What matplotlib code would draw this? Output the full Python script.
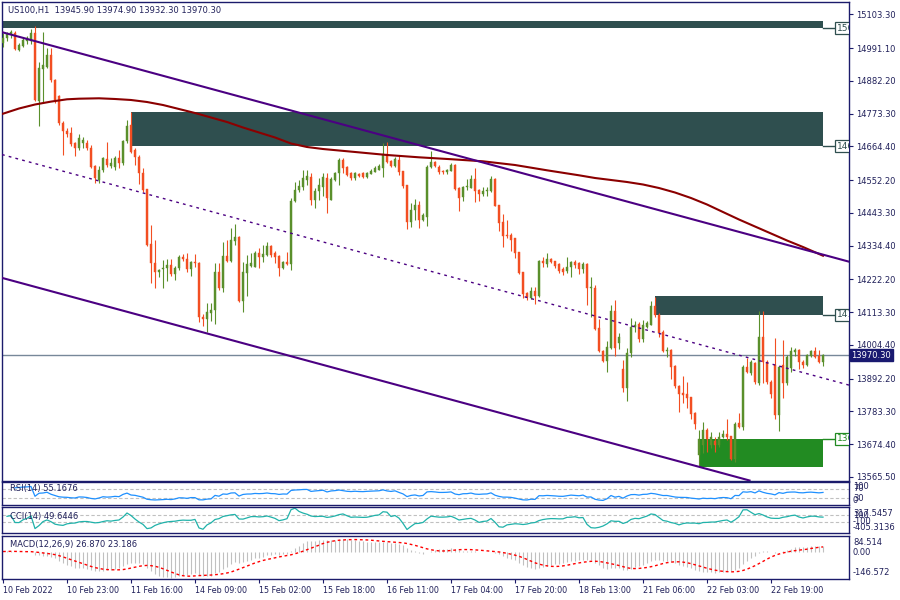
import numpy as np
import pandas as pd
import matplotlib
matplotlib.use("Agg")
import matplotlib.pyplot as plt
import matplotlib.transforms as mtrans

plt.rcParams['font.family'] = ['DejaVu Sans']

header = "US100,H1  13945.90 13974.90 13932.30 13970.30"

opens = [15007.9, 15024.5, 15037.8, 15041.1, 14984.6, 14997.9, 15014.6, 15014.6, 15041.1, 14815.1,
         14921.5, 14928.1, 14967.9, 14884.9, 14831.6, 14741.9, 14715.3, 14708.6, 14675.4, 14658.8,
         14675.4, 14675.4, 14658.8, 14598.9, 14552.4, 14585.6, 14622.2, 14598.9, 14595.6, 14625.5,
         14608.9, 14682.1, 14735.3, 14652.1, 14628.9, 14575.6, 14522.5, 14339.6, 14276.4, 14246.5,
         14256.5, 14259.8, 14269.8, 14239.8, 14259.8, 14296.4, 14289.7, 14256.5, 14279.7, 14276.4,
         14096.9, 14090.2, 14110.1, 14120.1, 14246.5, 14193.3, 14299.6, 14283.1, 14349.6, 14362.9,
         14150.1, 14243.1, 14266.4, 14263.1, 14309.6, 14296.4, 14303.0, 14333.0, 14309.6, 14299.6,
         14259.8, 14279.7, 14273.1, 14482.6, 14519.1, 14529.1, 14552.4, 14562.3, 14485.9, 14515.8,
         14529.1, 14559.0, 14485.9, 14552.4, 14575.6, 14618.9, 14595.6, 14575.6, 14559.0, 14572.3,
         14575.6, 14562.3, 14572.3, 14579.0, 14585.6, 14592.3, 14638.8, 14615.6, 14598.9, 14618.9,
         14582.3, 14535.8, 14412.8, 14452.6, 14469.3, 14419.4, 14429.4, 14595.6, 14612.2, 14595.6,
         14582.3, 14579.0, 14582.3, 14602.2, 14525.8, 14495.9, 14529.1, 14525.8, 14555.7, 14519.1,
         14505.8, 14515.8, 14515.8, 14555.7, 14469.3, 14412.8, 14369.5, 14369.5, 14359.6, 14313.0,
         14246.5, 14176.6, 14160.0, 14183.3, 14166.6, 14283.1, 14273.1, 14289.7, 14283.1, 14273.1,
         14256.5, 14249.8, 14263.1, 14279.7, 14276.4, 14256.5, 14273.1, 14193.3, 14193.3, 14060.3,
         13983.8, 13950.6, 13993.8, 14116.8, 14010.4, 13923.9, 13860.8, 13977.2, 14063.6, 14073.6,
         14023.7, 14063.6, 14070.3, 14133.4, 14103.5, 14047.0, 13983.8, 13987.1, 13933.9, 13867.4,
         13844.2, 13840.8, 13830.9, 13777.6, 13638.0, 13671.3, 13721.1, 13671.3, 13684.5, 13671.3,
         13697.8, 13707.8, 13701.2, 13624.7, 13744.4, 13731.1, 13930.6, 13910.6, 13943.9, 13877.4,
         14030.4, 13947.2, 13880.7, 13937.3, 13771.0, 13937.3, 13877.4, 13927.3, 13980.5, 13987.1,
         13947.2, 13937.3, 13967.2, 13983.8, 13967.2, 13945.9]

closes = [15024.5, 15037.8, 15044.4, 14988.0, 15001.3, 15017.9, 15024.5, 15041.1, 14818.4, 14924.8,
          14934.8, 14967.9, 14884.9, 14818.4, 14741.9, 14715.3, 14705.3, 14672.1, 14658.8, 14692.0,
          14685.4, 14658.8, 14595.6, 14559.0, 14585.6, 14625.5, 14602.2, 14608.9, 14625.5, 14608.9,
          14682.1, 14732.0, 14645.4, 14628.9, 14575.6, 14519.1, 14336.3, 14276.4, 14246.5, 14253.1,
          14259.8, 14269.8, 14239.8, 14259.8, 14296.4, 14289.7, 14256.5, 14279.7, 14276.4, 14096.9,
          14090.2, 14113.5, 14120.1, 14246.5, 14193.3, 14299.6, 14283.1, 14352.9, 14362.9, 14150.1,
          14246.5, 14273.1, 14276.4, 14309.6, 14296.4, 14306.3, 14333.0, 14303.0, 14296.4, 14259.8,
          14279.7, 14273.1, 14482.6, 14519.1, 14532.5, 14559.0, 14565.7, 14485.9, 14515.8, 14535.8,
          14562.3, 14492.6, 14555.7, 14575.6, 14618.9, 14592.3, 14569.0, 14559.0, 14575.6, 14565.7,
          14562.3, 14575.6, 14582.3, 14592.3, 14598.9, 14638.8, 14612.2, 14598.9, 14622.2, 14579.0,
          14532.5, 14412.8, 14452.6, 14469.3, 14419.4, 14436.0, 14595.6, 14612.2, 14598.9, 14579.0,
          14579.0, 14585.6, 14602.2, 14522.5, 14492.6, 14529.1, 14532.5, 14555.7, 14515.8, 14505.8,
          14515.8, 14519.1, 14555.7, 14465.9, 14409.4, 14366.2, 14366.2, 14352.9, 14309.6, 14243.1,
          14173.3, 14163.3, 14183.3, 14166.6, 14283.1, 14276.4, 14289.7, 14279.7, 14266.4, 14249.8,
          14246.5, 14263.1, 14279.7, 14269.8, 14256.5, 14273.1, 14193.3, 14196.6, 14057.0, 13983.8,
          13950.6, 13997.1, 14116.8, 13993.8, 14030.4, 13860.8, 13977.2, 14063.6, 14070.3, 14023.7,
          14070.3, 14077.0, 14133.4, 14103.5, 14043.6, 13983.8, 13987.1, 13930.6, 13867.4, 13840.8,
          13837.5, 13827.5, 13774.3, 13741.1, 13691.2, 13721.1, 13691.2, 13697.8, 13671.3, 13697.8,
          13707.8, 13697.8, 13624.7, 13741.1, 13731.1, 13930.6, 13914.0, 13947.2, 13880.7, 14030.4,
          13947.2, 13880.7, 13840.8, 13771.0, 13930.6, 13877.4, 13963.9, 13983.8, 13987.1, 13947.2,
          13937.3, 13970.5, 13983.8, 13963.9, 13947.2, 13970.3]

highs = [15041.1, 15044.4, 15051.1, 15047.8, 15007.9, 15024.5, 15031.1, 15054.5, 15064.4, 14944.7,
         15044.4, 14991.3, 14991.3, 14888.2, 14835.0, 14748.6, 14725.3, 14728.6, 14678.8, 14705.3,
         14695.4, 14685.4, 14668.7, 14602.2, 14598.9, 14628.9, 14678.8, 14625.5, 14632.1, 14652.1,
         14685.4, 14751.9, 14778.4, 14658.8, 14635.5, 14592.3, 14522.5, 14402.8, 14352.9, 14256.5,
         14286.4, 14289.7, 14289.7, 14266.4, 14303.0, 14306.3, 14309.6, 14283.1, 14306.3, 14279.7,
         14106.8, 14143.4, 14143.4, 14276.4, 14276.4, 14346.3, 14352.9, 14392.8, 14406.1, 14366.1,
         14279.7, 14303.0, 14309.6, 14316.3, 14326.3, 14336.3, 14346.3, 14336.3, 14316.3, 14303.0,
         14283.1, 14313.0, 14492.6, 14545.8, 14552.4, 14585.6, 14585.6, 14575.6, 14525.8, 14559.0,
         14575.6, 14575.6, 14562.3, 14579.0, 14625.5, 14625.5, 14598.9, 14579.0, 14579.0, 14575.6,
         14579.0, 14579.0, 14588.9, 14598.9, 14605.6, 14675.4, 14678.8, 14618.9, 14628.9, 14635.5,
         14582.3, 14535.8, 14475.9, 14489.2, 14482.6, 14442.6, 14602.2, 14648.8, 14615.6, 14602.2,
         14585.6, 14588.9, 14608.9, 14605.6, 14529.1, 14532.5, 14555.7, 14569.0, 14592.3, 14522.5,
         14529.1, 14529.1, 14565.7, 14559.0, 14469.3, 14439.3, 14419.4, 14376.1, 14359.6, 14313.0,
         14246.5, 14179.9, 14196.6, 14196.6, 14286.4, 14296.4, 14309.6, 14293.0, 14283.1, 14276.4,
         14263.1, 14296.4, 14283.1, 14286.4, 14279.7, 14279.7, 14276.4, 14229.9, 14203.3, 14090.2,
         13987.1, 14017.0, 14136.7, 14153.4, 14043.6, 13953.9, 13993.8, 14093.5, 14083.6, 14080.2,
         14086.9, 14083.6, 14150.1, 14163.3, 14110.1, 14053.6, 13997.1, 13990.4, 13937.3, 13870.7,
         13900.7, 13880.7, 13830.9, 13781.0, 13721.1, 13747.7, 13727.8, 13714.5, 13697.8, 13714.5,
         13721.1, 13757.7, 13701.2, 13747.7, 13777.6, 13937.3, 13960.5, 13953.9, 13947.2, 14116.8,
         14116.8, 13953.9, 13887.4, 14027.0, 13933.9, 14020.4, 13970.5, 13997.1, 13993.8, 13990.4,
         13953.9, 13973.9, 13987.1, 13997.1, 13987.1, 13974.9]

lows = [14994.6, 15014.6, 15024.5, 14984.6, 14981.3, 14994.6, 15004.6, 15004.6, 14815.1, 14731.9,
        14808.4, 14924.8, 14878.2, 14808.4, 14735.3, 14635.5, 14695.4, 14665.4, 14632.1, 14652.1,
        14658.8, 14652.1, 14592.3, 14542.4, 14542.4, 14579.0, 14595.6, 14592.3, 14585.6, 14592.3,
        14602.2, 14675.4, 14642.1, 14602.2, 14539.1, 14512.5, 14333.0, 14209.9, 14193.3, 14229.9,
        14193.3, 14216.6, 14233.2, 14219.9, 14253.1, 14283.1, 14246.5, 14233.2, 14263.1, 14080.2,
        14066.9, 14046.9, 14083.6, 14073.6, 14186.6, 14179.9, 14279.7, 14279.7, 14336.3, 14146.7,
        14113.5, 14166.6, 14263.1, 14263.1, 14259.8, 14279.7, 14299.6, 14296.4, 14276.4, 14233.2,
        14256.5, 14269.8, 14253.1, 14479.3, 14512.5, 14519.1, 14535.8, 14469.3, 14459.3, 14485.9,
        14499.2, 14442.6, 14485.9, 14549.1, 14535.8, 14575.6, 14565.7, 14552.4, 14552.4, 14562.3,
        14559.0, 14559.0, 14572.3, 14579.0, 14585.6, 14562.3, 14608.9, 14595.6, 14595.6, 14569.0,
        14525.8, 14389.5, 14396.1, 14419.4, 14392.8, 14416.1, 14399.5, 14592.3, 14595.6, 14572.3,
        14572.3, 14572.3, 14582.3, 14519.1, 14449.3, 14482.6, 14519.1, 14525.8, 14479.3, 14482.6,
        14499.2, 14499.2, 14512.5, 14465.9, 14382.8, 14329.6, 14359.6, 14316.3, 14293.0, 14239.8,
        14160.0, 14153.4, 14156.7, 14140.1, 14163.3, 14263.1, 14263.1, 14276.4, 14259.8, 14243.1,
        14236.5, 14243.1, 14229.9, 14259.8, 14239.8, 14243.1, 14136.7, 14096.9, 14053.6, 13980.5,
        13947.2, 13914.0, 13990.4, 13967.2, 13990.4, 13847.5, 13817.6, 13963.9, 14047.0, 14013.7,
        14013.7, 14060.3, 14070.3, 14096.9, 14030.4, 13980.5, 13963.9, 13890.7, 13860.8, 13781.0,
        13810.9, 13794.3, 13757.7, 13724.4, 13601.4, 13644.6, 13647.9, 13661.3, 13647.9, 13664.6,
        13694.5, 13687.9, 13621.4, 13614.7, 13727.8, 13721.1, 13910.6, 13904.0, 13874.1, 13870.7,
        13877.4, 13874.1, 13827.5, 13757.7, 13717.8, 13827.5, 13870.7, 13914.0, 13967.2, 13924.0,
        13927.3, 13933.9, 13963.9, 13960.5, 13943.9, 13932.3]

# moving average (at sample bars)
ma_bars = [0, 4, 8, 12, 16, 19, 24, 28, 32, 36, 40, 44, 48, 52, 56, 60, 64, 68, 72, 76,
           80, 88, 96, 104, 112, 120, 128, 136, 144, 148, 152, 156, 160, 164, 168, 172, 176, 180,
           184, 188, 192, 196, 200, 205]
ma_values = [14772.8, 14790.1, 14803.4, 14813.0, 14820.7, 14822.7, 14824.0, 14821.7, 14818.4, 14811.7,
             14801.7, 14788.4, 14775.1, 14760.2, 14745.2, 14726.9, 14710.3, 14693.7, 14673.7, 14662.1,
             14655.4, 14645.5, 14635.5, 14627.8, 14621.5, 14614.5, 14602.2, 14584.6, 14568.0, 14559.0,
             14552.4, 14545.7, 14537.4, 14525.7, 14510.8, 14492.5, 14470.9, 14445.9, 14421.0, 14397.7,
             14374.5, 14351.2, 14329.6, 14300.6]

# channel lines: price at two anchor bars
trend_bars = [0, 205]
upper_line = [15043.0, 14304.2]
middle_line = [14636.0, 13893.9]
lower_line = [14226.0, 13487.0]

# rectangles (zones)
zone_start = [-5, 32, 163, 174]
zone_end = [205, 205, 205, 205]
zone_low = [15057.7, 14665.4, 14103.5, 13598.1]
zone_high = [15081.0, 14778.4, 14166.6, 13691.2]
zone_label = [15057.7, 14665.4, 14103.5, 13691.2]
zone_colors = ["#2F4F4F", "#2F4F4F", "#2F4F4F", "#228B22"]

price_ticks = [15103.30, 14991.10, 14882.20, 14773.30, 14664.40, 14552.20, 14443.30, 14334.40,
               14222.20, 14113.30, 14004.40, 13892.20, 13783.30, 13674.40, 13565.50]
last_price = 13970.30

time_tick_bars = [0, 16, 32, 48, 64, 80, 96, 112, 128, 144, 160, 176, 192]
time_labels = ["10 Feb 2022", "10 Feb 23:00", "11 Feb 16:00", "14 Feb 09:00", "15 Feb 02:00",
               "15 Feb 18:00", "16 Feb 11:00", "17 Feb 04:00", "17 Feb 20:00", "18 Feb 13:00",
               "21 Feb 06:00", "22 Feb 03:00", "22 Feb 19:00"]

rsi_label = "RSI(14) 55.1676"
cci_label = "CCI(14) 49.6446"
macd_label = "MACD(12,26,9) 26.870 23.186"
rsi_scale = ["100", "70", "30", "0"]
cci_scale = ["317.5457", "100", "-100", "-405.3136"]
macd_scale = ["84.514", "0.00", "-146.572"]
cci_limits = (-405.3136, 317.5457)
macd_limits = (-146.572, 84.514)

# ---------------------------------------------------------------------------
o = np.array(opens); c = np.array(closes)
h = np.maximum(np.array(highs), np.maximum(o, c))
l = np.minimum(np.array(lows), np.minimum(o, c))
n = len(c)
idx = np.arange(n)

# indicators computed from the OHLC series
cs = pd.Series(c)
d = cs.diff()
g = d.clip(lower=0).ewm(alpha=1/14, adjust=False).mean()
ls_ = (-d.clip(upper=0)).ewm(alpha=1/14, adjust=False).mean()
rsi = 100 - 100 / (1 + g / ls_)
rsi[(g <= 0) | (ls_ <= 0)] = np.nan

tp = pd.Series((h + l + c) / 3)
tp_sma = tp.rolling(14, min_periods=2).mean()
tp_md = tp.rolling(14, min_periods=2).apply(lambda x: np.mean(np.abs(x - x.mean())), raw=True)
cci = (tp - tp_sma) / (0.015 * tp_md)

ema12 = cs.ewm(span=12, adjust=False).mean()
ema26 = cs.ewm(span=26, adjust=False).mean()
macd = ema12 - ema26
signal = macd.rolling(9, min_periods=1).mean()

# ---------------------------------------------------------------------------
FRAME = "#1b1b6b"
TXT = "#20205a"
BULL = "#5A8F2B"
BEAR = "#F24E22"
W, H = 900, 600
fig = plt.figure(figsize=(9, 6), dpi=100)
fig.patch.set_facecolor("white")


def ax_px(x0, y0, x1, y1):
    return fig.add_axes([x0 / W, 1 - y1 / H, (x1 - x0) / W, (y1 - y0) / H])


ax = ax_px(2, 2, 849, 480.5)
ax_rsi = ax_px(2, 482, 849, 505)
ax_cci = ax_px(2, 507.3, 849, 533.3)
ax_macd = ax_px(2, 535.7, 849, 579)
XL = (-0.25, 211.5)

for a in (ax, ax_rsi, ax_cci, ax_macd):
    a.set_xlim(*XL)
    for sp in a.spines.values():
        sp.set_color(FRAME)
        sp.set_linewidth(1.0)
    a.set_xticks([])
    a.set_yticks([])

# main panel
ax.set_ylim(13553.2, 15144.2)
for s, e, lo, hi, lab, zc in zip(zone_start, zone_end, zone_low, zone_high, zone_label, zone_colors):
    ax.fill_between([s, e], lo, hi, color=zc, lw=0, zorder=1)
    ax.plot([e, e + 2.75], [lab, lab], color=zc, lw=1, zorder=2)
    ax.text(e + 3.4, lab, f"{lab:.2f}", fontsize=6.5, color=zc, va='center', ha='left',
            clip_on=True, zorder=6,
            bbox=dict(boxstyle='square,pad=0.2', fc='white', ec=zc, lw=0.9))

ax.axhline(last_price, color="#778899", lw=1, zorder=2)

cols = np.where(c >= o, BULL, BEAR)
ax.vlines(idx, l, h, colors=cols, lw=0.8, zorder=3)
ax.bar(idx, np.abs(c - o), bottom=np.minimum(o, c), width=0.72, color=cols,
       edgecolor=cols, linewidth=0.3, zorder=4)

ax.plot(ma_bars, ma_values, color="#8B0000", lw=1.5, zorder=5)
ax.axline((trend_bars[0], upper_line[0]), (trend_bars[1], upper_line[1]), color="#4B0082", lw=1.5, zorder=5)
ax.axline((trend_bars[0], lower_line[0]), (trend_bars[1], lower_line[1]), color="#4B0082", lw=1.5, zorder=5)
ax.axline((trend_bars[0], middle_line[0]), (trend_bars[1], middle_line[1]), color="#4B0082", lw=1.0,
          ls=(0, (2, 3)), zorder=5)

ax.yaxis.tick_right()
ax.set_yticks(price_ticks)
ax.set_yticklabels([f"{v:.2f}" for v in price_ticks])
ax.tick_params(axis='y', direction='out', length=3, width=0.8, color=FRAME,
               labelsize=6, labelcolor=TXT, pad=2)

blend = mtrans.blended_transform_factory(ax.transAxes, ax.transData)
ax.text(1.0 + 2.5 / 847, last_price, f"{last_price:.2f}", transform=blend, ha='left', va='center',
        fontsize=6, color='white', zorder=10,
        bbox=dict(boxstyle='square,pad=0.22', fc='#191970', ec='#191970'))

fig.text(8 / W, 1 - 11 / H, header, fontsize=6, color=TXT, va='center', ha='left')

# RSI
ax_rsi.set_ylim(0, 100)
for lv in (70, 30):
    ax_rsi.axhline(lv, color="#C0C0C0", lw=0.8, ls=(0, (3, 2)))
ax_rsi.plot(idx, rsi, color="#1E90FF", lw=0.9)
ax_rsi.text(8 / 847, 0.70, rsi_label, transform=ax_rsi.transAxes, fontsize=6, color=TXT, va='center')
for t, fy in zip(rsi_scale, [0.80, 0.70, 0.30, 0.20]):
    ax_rsi.text(1.0 + 4 / 847, fy, t, transform=ax_rsi.transAxes, fontsize=6, color=TXT, va='center')

# CCI
ax_cci.set_ylim(*cci_limits)
for lv in (100, -100):
    ax_cci.axhline(lv, color="#C0C0C0", lw=0.8, ls=(0, (3, 2)))
ax_cci.plot(idx, cci, color="#20B2AA", lw=0.9)
ax_cci.text(8 / 847, 0.63, cci_label, transform=ax_cci.transAxes, fontsize=6, color=TXT, va='center')
for t, fy in zip(cci_scale, [0.76, 0.68, 0.44, 0.24]):
    ax_cci.text(1.0 + 4 / 847, fy, t, transform=ax_cci.transAxes, fontsize=6, color=TXT, va='center')

# MACD
ax_macd.set_ylim(*macd_limits)
ax_macd.vlines(idx, 0, macd, colors="#C0C0C0", lw=0.8)
ax_macd.plot(idx, signal, color="red", lw=1.0, ls=(0, (2, 2)))
ax_macd.text(8 / 847, 0.80, macd_label, transform=ax_macd.transAxes, fontsize=6, color=TXT, va='center')
for t, fy in zip(macd_scale, [0.85, 0.61, 0.15]):
    ax_macd.text(1.0 + 4 / 847, fy, t, transform=ax_macd.transAxes, fontsize=6, color=TXT, va='center')

ax_macd.set_xticks(time_tick_bars)
ax_macd.set_xticklabels(time_labels)
ax_macd.tick_params(axis='x', direction='out', length=3, width=0.8, color=FRAME,
                    labelsize=5.8, labelcolor=TXT, pad=2)
for lbl in ax_macd.get_xticklabels():
    lbl.set_ha('left')

fig.savefig("out.png", dpi=100, facecolor="white")
